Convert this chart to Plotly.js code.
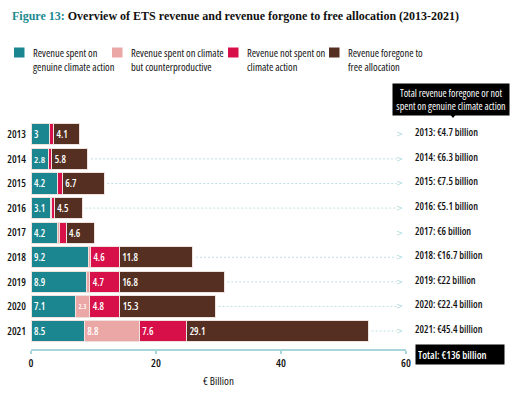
<!DOCTYPE html>
<html>
<head>
<meta charset="utf-8">
<script src="https://cdn.plot.ly/plotly-3.0.1.min.js"></script>
<style>
html,body{margin:0;padding:0;background:#fff;}
#chart{width:512px;height:398px;}
text{font-stretch:75%;}
</style>
</head>
<body>
<div id="chart"></div>
<script>
// ---- data ----
const years = ['2013','2014','2015','2016','2017','2018','2019','2020','2021'];
const genuine = [3, 2.8, 4.2, 3.1, 4.2, 9.2, 8.9, 7.1, 8.5];
const counterproductive = [0, 0, 0.1, 0.1, 0.4, 0.3, 0.5, 2.3, 8.8];
const notSpent = [0.6, 0.5, 0.7, 0.5, 1.0, 4.6, 4.7, 4.8, 7.6];
const forgone = [4.1, 5.8, 6.7, 4.5, 4.6, 11.8, 16.8, 15.3, 29.1];
const foregoneTotals = [4.7, 6.3, 7.5, 5.1, 6, 16.7, 22, 22.4, 45.4];
const grandTotal = 136;
const showLeader = [false, true, true, true, false, true, true, true, true];
const seriesNames = ['Revenue spent on<br>genuine climate action', 'Revenue spent on climate<br>but counterproductive', 'Revenue not spent on<br>climate action', 'Revenue foregone to<br>free allocation'];
const seriesColors = ['#1b8690', '#eba6a6', '#d81049', '#552f22'];
const xTicks = [0, 20, 40, 60];

// ---- layout geometry ----
const W = 512, H = 398;
const M = {l: 31, r: 106, t: 122, b: 49};
const PW = W - M.l - M.r, PH = H - M.t - M.b;
const px = x => (x - M.l) / PW;
const py = y => (H - M.b - y) / PH;

const COND = '"Open Sans", "Liberation Sans Narrow", sans-serif';
const SERIF = '"Liberation Serif", serif';

const seriesVals = [genuine, counterproductive, notSpent, forgone];
const minLabel = [0, 2, 2, 0];
const traces = seriesVals.map((vals, i) => ({
  type: 'bar', orientation: 'h', y: years, x: vals,
  name: seriesNames[i], showlegend: false,
  marker: {color: seriesColors[i], line: {color: '#efe2de', width: 1}},
  text: vals.map(v => (v > 0 && v >= minLabel[i]) ? String(v) : ''),
  textposition: 'inside', insidetextanchor: 'start', textangle: 0,
  textfont: {family: COND, size: 10, color: '#ffffff', weight: 600},
  hoverinfo: 'skip', cliponaxis: false
}));

const shapes = [];
const annotations = [];

// leader lines + chevrons + right-hand labels
years.forEach((yr, i) => {
  const total = genuine[i] + counterproductive[i] + notSpent[i] + forgone[i];
  if (showLeader[i]) {
    shapes.push({type: 'line', xref: 'x', yref: 'y', x0: total + 0.5, x1: 58.5, y0: i, y1: i,
      line: {color: '#bfe0e4', width: 1, dash: '2px,2px'}});
  }
  annotations.push({xref: 'paper', yref: 'y', x: px(399.5), y: i, text: '&gt;', showarrow: false,
    font: {family: 'DejaVu Sans', size: 9, color: '#b4dade'}, xanchor: 'center', yanchor: 'middle'});
  annotations.push({xref: 'paper', yref: 'y', x: px(413), y: i, yshift: 2,
    text: yr + ': €' + foregoneTotals[i] + ' billion', showarrow: false,
    font: {family: COND, size: 10, color: '#111', weight: 600}, xanchor: 'left', yanchor: 'middle'});
});

// total box
annotations.push({xref: 'paper', yref: 'paper', x: px(415), y: py(354.5), xanchor: 'left', yanchor: 'middle',
  text: 'Total: €' + grandTotal + ' billion', showarrow: false, bgcolor: '#000', borderpad: 2,
  width: 84, height: 15, align: 'left',
  font: {family: COND, size: 10.5, color: '#fff', weight: 600}});

// callout box
annotations.push({xref: 'paper', yref: 'paper', x: px(451), y: py(99), xanchor: 'center', yanchor: 'middle',
  text: 'Total revenue foregone or not<br>spent on genuine climate action', showarrow: false,
  bgcolor: '#000', borderpad: 2, align: 'center', width: 112,
  font: {family: COND, size: 10, color: '#fff', weight: 500}});
shapes.push({type: 'path', xref: 'paper', yref: 'paper', fillcolor: '#000', line: {width: 0},
  path: `M ${px(448.5)} ${py(112.5)} L ${px(457.5)} ${py(112.5)} L ${px(453)} ${py(118)} Z`});

// legend
const legX = [14, 112, 228, 329];
seriesNames.forEach((n, i) => {
  shapes.push({type: 'rect', xref: 'paper', yref: 'paper', x0: px(legX[i]), x1: px(legX[i] + 10.5),
    y0: py(57.5), y1: py(47.5), fillcolor: seriesColors[i], line: {width: 0}});
  annotations.push({xref: 'paper', yref: 'paper', x: px(legX[i] + 17), y: py(44), xanchor: 'left', yanchor: 'top',
    text: n, showarrow: false, align: 'left',
    font: {family: COND, size: 10.5, color: '#111', weight: 500}});
});

const layout = {
  width: W, height: H,
  margin: M,
  paper_bgcolor: '#fff', plot_bgcolor: '#fff',
  barmode: 'stack', bargap: 0.14,
  title: {
    text: '<span style="color:#1d8a93">Figure 13:</span> Overview of ETS revenue and revenue forgone to free allocation (2013-2021)',
    font: {family: SERIF, size: 12, color: '#111', weight: 'bold'},
    x: 12 / W, xanchor: 'left', xref: 'container', y: 1 - 16 / H, yanchor: 'middle', yref: 'container'
  },
  xaxis: {
    range: [0, 60], tickvals: xTicks, ticktext: xTicks.map(String),
    showgrid: false, zeroline: false, showline: true, linecolor: '#a9d6db', linewidth: 1.5,
    ticks: 'outside', ticklen: 3, tickcolor: '#a9d6db', tickwidth: 1.5,
    tickfont: {family: COND, size: 11, color: '#111', weight: 600},
    title: {text: '€ Billion', font: {family: COND, size: 11, color: '#111', weight: 500}, standoff: 8},
    fixedrange: true
  },
  yaxis: {
    type: 'category', categoryorder: 'array', categoryarray: years,
    range: [8.73, -0.5],
    showgrid: false, zeroline: false, showline: false, ticks: '',
    tickfont: {family: COND, size: 10.5, color: '#111', weight: 600},
    ticklabelstandoff: 4,
    fixedrange: true
  },
  shapes: shapes,
  annotations: annotations
};

Plotly.newPlot('chart', traces, layout, {displayModeBar: false, staticPlot: true});
</script>
</body>
</html>
